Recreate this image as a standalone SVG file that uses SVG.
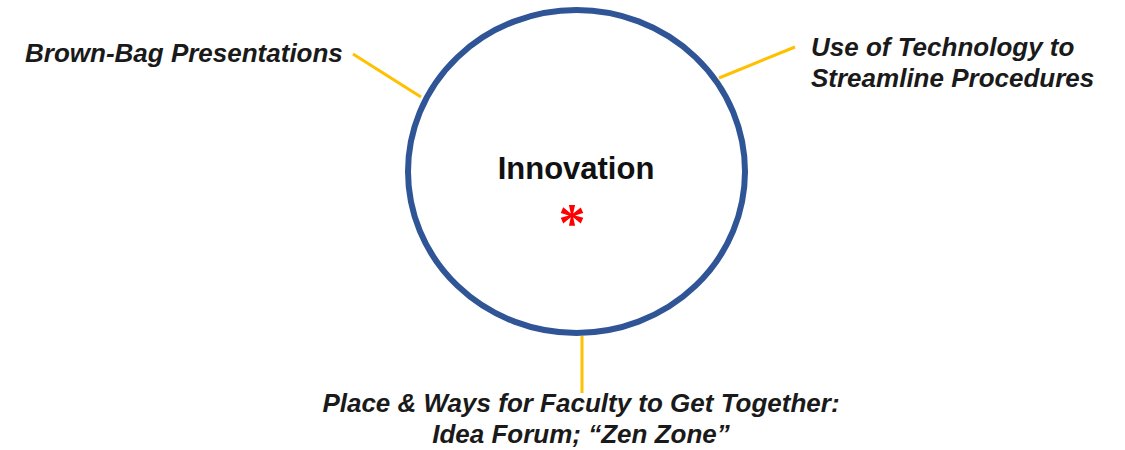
<svg xmlns="http://www.w3.org/2000/svg" width="1125" height="450" viewBox="0 0 1125 450">
<style>
.lbl{font-family:"Liberation Sans",Arial,sans-serif;font-size:26px;font-weight:bold;font-style:italic;fill:#1a1a1a}
.con{stroke:#FFC000;stroke-width:3;fill:none}
</style>
<rect width="1125" height="450" fill="#fff"/>
<g id="connectors">
<line class="con" x1="353" y1="54" x2="421" y2="97"/>
<line class="con" x1="795" y1="47" x2="719" y2="78"/>
<line class="con" x1="582" y1="336" x2="582" y2="393"/>
</g>
<g id="innovation">
<ellipse cx="576.5" cy="171.5" rx="168.5" ry="161.5" fill="#fff" stroke="#2F5597" stroke-width="6"/>
<text x="576" y="179" text-anchor="middle" font-family="'Liberation Sans',Arial,sans-serif" font-size="31" font-weight="bold" fill="#111">Innovation</text>
<text x="572" y="241" text-anchor="middle" font-family="'Liberation Serif',serif" font-size="54" font-weight="bold" fill="#f00">*</text>
</g>
<g id="brownbag">
<text class="lbl" x="25" y="62">Brown-Bag Presentations</text>
</g>
<g id="technology">
<text class="lbl" x="811" y="56">Use of Technology to</text>
<text class="lbl" x="811" y="87">Streamline Procedures</text>
</g>
<g id="faculty">
<text class="lbl" x="581" y="412" text-anchor="middle">Place &amp; Ways for Faculty to Get Together:</text>
<text class="lbl" x="581" y="443" text-anchor="middle">Idea Forum; “Zen Zone”</text>
</g>
</svg>
